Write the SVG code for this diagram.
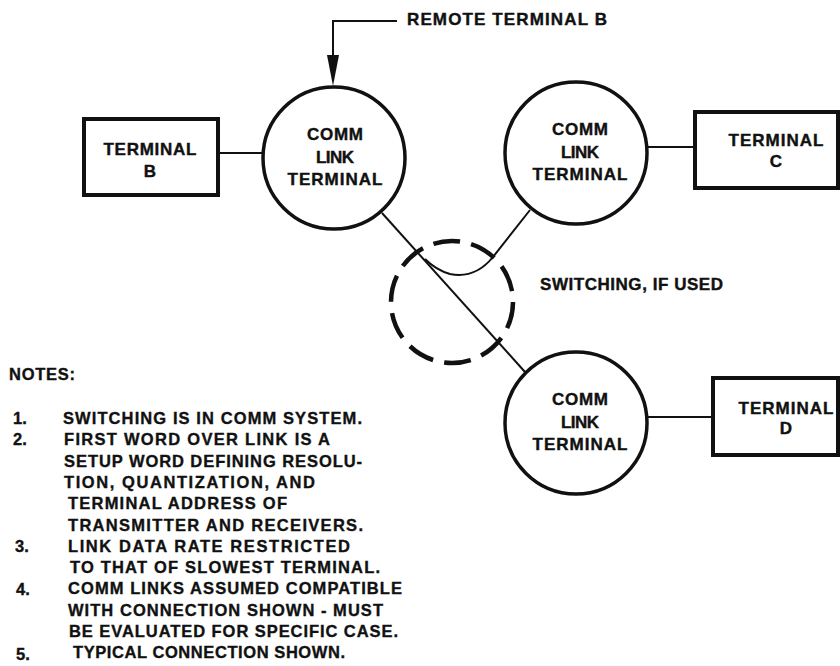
<svg xmlns="http://www.w3.org/2000/svg" width="840" height="666" viewBox="0 0 840 666">
<defs>
<style>
.t{font-family:"Liberation Sans",Arial,Helvetica,sans-serif;font-weight:bold;font-size:17px;fill:#111;stroke:#111;stroke-width:0.4}
.c{text-anchor:middle}
.n{font-family:"Liberation Sans",Arial,Helvetica,sans-serif;font-weight:bold;font-size:16.5px;fill:#111;stroke:#111;stroke-width:0.35}
.circ{fill:none;stroke:#111;stroke-width:3.5}
.box{fill:none;stroke:#111;stroke-width:4}
.ln{fill:none;stroke:#111;stroke-width:2}
.dash{fill:none;stroke:#111;stroke-width:4.5;stroke-dasharray:27 11.3}
</style>
</defs>
<rect width="840" height="666" fill="#fff"/>

<g id="connectors">
<line class="ln" x1="218" y1="153" x2="263" y2="153"/>
<line class="ln" x1="647" y1="147" x2="695" y2="147"/>
<line class="ln" x1="647" y1="417" x2="713" y2="417"/>
<line class="ln" x1="382" y1="213" x2="525" y2="372"/>
<path class="ln" d="M530,210 L493,257 Q475,279 450,274 Q436,270 425,259"/>
<path class="ln" d="M397,21 L333,21 L333,58"/>
<polygon points="327,55 339,55 333,86" fill="#111"/>
</g>

<g id="remote-label">
<text class="t" x="407" y="25" textLength="200" lengthAdjust="spacing">REMOTE TERMINAL B</text>
</g>

<g id="terminal-b">
<rect class="box" x="84" y="119" width="134" height="76"/>
<text class="t c" x="150" y="155" textLength="93" lengthAdjust="spacing">TERMINAL</text>
<text class="t c" x="150" y="177">B</text>
</g>

<g id="comm-link-1">
<circle class="circ" cx="334" cy="158" r="71"/>
<text class="t c" x="335" y="140" textLength="56" lengthAdjust="spacing">COMM</text>
<text class="t c" x="335" y="163" textLength="38" lengthAdjust="spacing">LINK</text>
<text class="t c" x="335" y="185" textLength="95" lengthAdjust="spacing">TERMINAL</text>
</g>

<g id="comm-link-2">
<circle class="circ" cx="576" cy="153" r="71"/>
<text class="t c" x="580" y="135" textLength="56" lengthAdjust="spacing">COMM</text>
<text class="t c" x="580" y="158" textLength="38" lengthAdjust="spacing">LINK</text>
<text class="t c" x="580" y="180" textLength="95" lengthAdjust="spacing">TERMINAL</text>
</g>

<g id="terminal-c">
<rect class="box" x="695" y="112" width="143" height="76"/>
<text class="t c" x="776" y="146" textLength="95" lengthAdjust="spacing">TERMINAL</text>
<text class="t c" x="776" y="167">C</text>
</g>

<g id="switching">
<circle class="dash" cx="452" cy="302" r="61"/>
<text class="t" x="540" y="290" textLength="183" lengthAdjust="spacing">SWITCHING, IF USED</text>
</g>

<g id="comm-link-3">
<circle class="circ" cx="576" cy="423" r="71"/>
<text class="t c" x="580" y="405" textLength="56" lengthAdjust="spacing">COMM</text>
<text class="t c" x="580" y="428" textLength="38" lengthAdjust="spacing">LINK</text>
<text class="t c" x="580" y="450" textLength="95" lengthAdjust="spacing">TERMINAL</text>
</g>

<g id="terminal-d">
<rect class="box" x="713" y="378" width="125" height="77"/>
<text class="t c" x="786" y="414" textLength="95" lengthAdjust="spacing">TERMINAL</text>
<text class="t c" x="786" y="434">D</text>
</g>

<g id="notes">
<text class="n" x="9" y="380" textLength="66" lengthAdjust="spacing">NOTES:</text>
<text class="n" x="13" y="424">1.</text>
<text class="n" x="63" y="424" textLength="299" lengthAdjust="spacing">SWITCHING IS IN COMM SYSTEM.</text>
<text class="n" x="13" y="445">2.</text>
<text class="n" x="64" y="445" textLength="266" lengthAdjust="spacing">FIRST WORD OVER LINK IS A</text>
<text class="n" x="64" y="467" textLength="298" lengthAdjust="spacing">SETUP WORD DEFINING RESOLU-</text>
<text class="n" x="64" y="488" textLength="251" lengthAdjust="spacing">TION, QUANTIZATION, AND</text>
<text class="n" x="68" y="509" textLength="219" lengthAdjust="spacing">TERMINAL ADDRESS OF</text>
<text class="n" x="68" y="531" textLength="295" lengthAdjust="spacing">TRANSMITTER AND RECEIVERS.</text>
<text class="n" x="15" y="552">3.</text>
<text class="n" x="68" y="552" textLength="282" lengthAdjust="spacing">LINK DATA RATE RESTRICTED</text>
<text class="n" x="70" y="573" textLength="310" lengthAdjust="spacing">TO THAT OF SLOWEST TERMINAL.</text>
<text class="n" x="16" y="595">4.</text>
<text class="n" x="68" y="594" textLength="334" lengthAdjust="spacing">COMM LINKS ASSUMED COMPATIBLE</text>
<text class="n" x="68" y="616" textLength="315" lengthAdjust="spacing">WITH CONNECTION SHOWN - MUST</text>
<text class="n" x="69" y="637" textLength="329" lengthAdjust="spacing">BE EVALUATED FOR SPECIFIC CASE.</text>
<text class="n" x="16" y="660">5.</text>
<text class="n" x="73" y="658" textLength="272" lengthAdjust="spacing">TYPICAL CONNECTION SHOWN.</text>
</g>
</svg>
